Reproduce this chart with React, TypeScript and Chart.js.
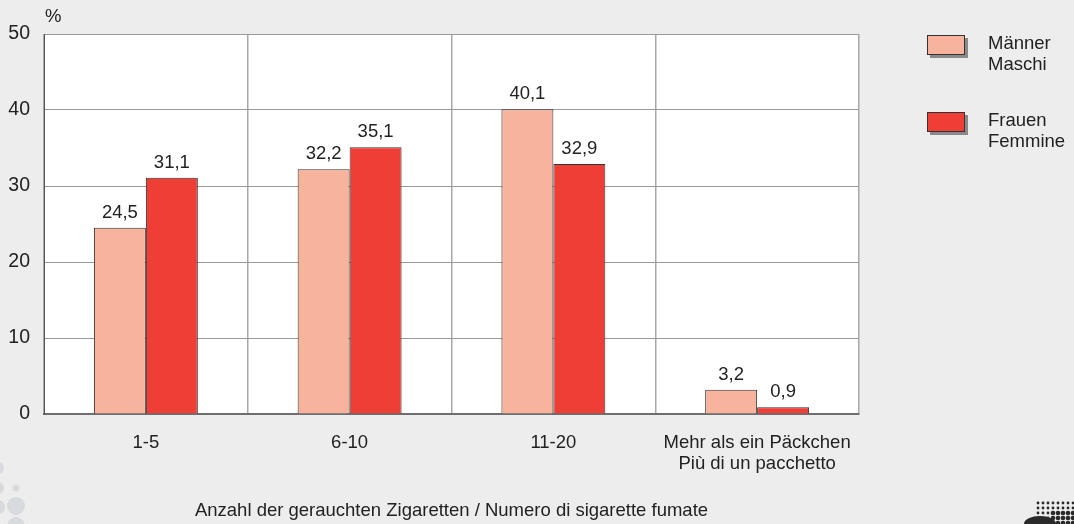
import React, { useEffect, useRef } from "react";
import { Chart, registerables } from "chart.js";

Chart.register(...registerables);

const categories: string[][] = [
  ["1-5"],
  ["6-10"],
  ["11-20"],
  ["Mehr als ein Päckchen", "Più di un pacchetto"],
];
const maenner = [24.5, 32.2, 40.1, 3.2];
const frauen = [31.1, 35.1, 32.9, 0.9];
const seriesNames: string[][] = [
  ["Männer", "Maschi"],
  ["Frauen", "Femmine"],
];
const yTicks = [0, 10, 20, 30, 40, 50];
const xTitle = "Anzahl der gerauchten Zigaretten / Numero di sigarette fumate";
const yUnit = "%";

const FONT = "Arial, 'Liberation Sans', Helvetica, sans-serif";
const TEXT = "#222222";
const COLORS = ["#f8b39c", "#ef3e36"];
const FS = 18.5;

const decorPlugin = {
  id: "decor",
  beforeDraw(chart: any) {
    const { ctx, chartArea, width, height } = chart;
    ctx.save();
    ctx.fillStyle = "#ededed";
    ctx.fillRect(0, 0, width, height);
    // grey dots bottom-left
    ctx.fillStyle = "#d9dadd";
    const dots = [
      [-2, 468, 6],
      [-2, 488, 6],
      [-2, 507, 7],
      [16, 488, 3.5],
      [16, 506, 9],
      [16, 526, 9],
    ];
    dots.forEach(([x, y, r]) => {
      ctx.beginPath();
      ctx.arc(x, y, r, 0, Math.PI * 2);
      ctx.fill();
    });
    // halftone bottom-right
    ctx.fillStyle = "#2a2a2a";
    for (let y = 503; y <= 524; y += 5) {
      for (let x = 1038; x <= 1074; x += 5) {
        const r = y > 512 && x > 1048 ? 2.3 : 1.4;
        ctx.beginPath();
        ctx.arc(x, y, r, 0, Math.PI * 2);
        ctx.fill();
      }
    }
    ctx.beginPath();
    ctx.ellipse(1040, 524, 16, 8, 0, 0, Math.PI * 2);
    ctx.fill();
    // plot area
    ctx.fillStyle = "#ffffff";
    ctx.fillRect(
      chartArea.left,
      chartArea.top,
      chartArea.right - chartArea.left,
      chartArea.bottom - chartArea.top
    );
    ctx.restore();
  },
  afterDraw(chart: any) {
    const { ctx, chartArea } = chart;
    ctx.save();
    ctx.fillStyle = TEXT;
    ctx.font = `${FS}px ${FONT}`;
    // value labels
    ctx.textAlign = "center";
    ctx.textBaseline = "alphabetic";
    chart.data.datasets.forEach((ds: any, i: number) => {
      const meta = chart.getDatasetMeta(i);
      meta.data.forEach((bar: any, j: number) => {
        const v = ds.data[j] as number;
        ctx.fillText(v.toFixed(1).replace(".", ","), bar.x, bar.y - 10);
      });
    });
    // unit
    ctx.textAlign = "left";
    ctx.fillText(yUnit, 45, 22);
    // x title
    ctx.textAlign = "center";
    ctx.fillText(xTitle, (chartArea.left + chartArea.right) / 2, 516);
    // legend
    const boxX = 927;
    const boxTops = [35, 112];
    const baselines = [49, 126];
    seriesNames.forEach((names, i) => {
      const t = boxTops[i];
      ctx.fillStyle = "#8a8a8a";
      ctx.fillRect(boxX + 3, t + 3, 38, 20);
      ctx.fillStyle = COLORS[i];
      ctx.fillRect(boxX, t, 38, 20);
      ctx.strokeStyle = "#333333";
      ctx.lineWidth = 1;
      ctx.strokeRect(boxX + 0.5, t + 0.5, 37, 19);
      ctx.fillStyle = TEXT;
      ctx.textAlign = "left";
      names.forEach((n, k) => {
        ctx.fillText(n, 988, baselines[i] + k * 21);
      });
    });
    ctx.restore();
  },
};

export default function App() {
  const ref = useRef<HTMLCanvasElement | null>(null);
  useEffect(() => {
    if (!ref.current) return;
    const chart = new Chart(ref.current, {
      type: "bar",
      data: {
        labels: categories,
        datasets: [
          {
            label: seriesNames[0].join(" "),
            data: maenner,
            backgroundColor: COLORS[0],
            borderColor: "#333333",
            borderWidth: 1,
            borderSkipped: "bottom",
          },
          {
            label: seriesNames[1].join(" "),
            data: frauen,
            backgroundColor: COLORS[1],
            borderColor: "#333333",
            borderWidth: 1,
            borderSkipped: "bottom",
          },
        ],
      },
      options: {
        animation: false,
        responsive: true,
        maintainAspectRatio: false,
        events: [],
        layout: { padding: { top: 34, right: 215, left: 0, bottom: 0 } },
        datasets: {
          bar: { categoryPercentage: 0.51, barPercentage: 1.0 },
        },
        plugins: {
          legend: { display: false },
          tooltip: { enabled: false },
          title: { display: false },
        },
        scales: {
          x: {
            offset: true,
            grid: {
              display: true,
              offset: true,
              color: "#a8a8a8",
              lineWidth: 1.5,
              drawTicks: false,
            },
            border: { display: true, color: "#6e6e6e", width: 2 },
            ticks: {
              color: TEXT,
              font: { family: FONT, size: FS, lineHeight: 1.12 },
              padding: 19,
              maxRotation: 0,
              autoSkip: false,
            },
            afterFit(scale: any) {
              scale.height = 110;
            },
          },
          y: {
            min: 0,
            max: 50,
            afterBuildTicks(scale: any) {
              scale.ticks = yTicks.map((v) => ({ value: v }));
            },
            grid: {
              color: "#9a9a9a",
              lineWidth: 1,
              drawTicks: false,
            },
            border: { display: true, color: "#555555", width: 1 },
            ticks: {
              color: TEXT,
              font: { family: FONT, size: 19.5 },
              padding: 14,
            },
            afterFit(scale: any) {
              scale.width = 44;
            },
          },
        },
      },
      plugins: [decorPlugin],
    });
    return () => chart.destroy();
  }, []);
  return (
    <div
      style={{
        position: "fixed",
        left: 0,
        top: 0,
        width: 1074,
        height: 524,
      }}
    >
      <canvas ref={ref} />
    </div>
  );
}
